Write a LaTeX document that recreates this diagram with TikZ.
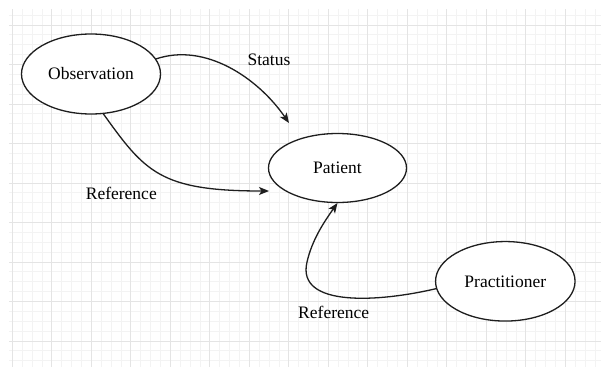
\documentclass[tikz,border=0pt]{standalone}
\usepackage{fontspec}
\setmainfont{Liberation Serif}
\usetikzlibrary{arrows.meta,shapes.geometric}

\definecolor{gridminor}{HTML}{F3F3F3}
\definecolor{gridmajor}{HTML}{E4E4E4}
\definecolor{ink}{HTML}{1E1E1E}

\tikzset{
  entity/.style={ellipse, draw=ink, line width=1.3pt, fill=white,
    inner sep=0pt, outer sep=0pt, font=\fontsize{17.5}{20}\selectfont},
  edgelabel/.style={inner sep=0pt, font=\fontsize{17.5}{20}\selectfont},
  link/.style={draw=ink, line width=1.3pt,
    -{Stealth[length=10pt,width=8pt,inset=2.5pt]}},
  minorline/.style={draw=gridminor, line width=1pt},
  majorline/.style={draw=gridmajor, line width=1pt},
}

\begin{document}
\begin{tikzpicture}[x=1pt,y=-1pt]
  \useasboundingbox (0,0) rectangle (601,367);
  \fill[white] (0,0) rectangle (601,367);

  % background grid
  \begin{scope}
    \clip (9,9) rectangle (601,367);
    \foreach \i in {0,...,60} {
      \draw[minorline] ({12.4+9.875*\i},9) -- ({12.4+9.875*\i},367);
    }
    \foreach \i in {-1,...,36} {
      \draw[minorline] (9,{25+9.875*\i}) -- (601,{25+9.875*\i});
    }
    \foreach \i in {0,...,15} {
      \draw[majorline] ({12.4+39.5*\i},9) -- ({12.4+39.5*\i},367);
    }
    \foreach \i in {0,...,9} {
      \draw[majorline] (9,{25+39.5*\i}) -- (601,{25+39.5*\i});
    }
  \end{scope}

  % entities
  \node[entity, minimum width=139pt, minimum height=80pt] (obs) at (91,74) {Observation};
  \node[entity, minimum width=138pt, minimum height=69pt] (pat) at (337.5,168) {Patient};
  \node[entity, minimum width=139.5pt, minimum height=79.5pt] (pra) at (505.3,281.3) {Practitioner};

  % arrow tips in front of the patient node
  \coordinate (tipstatus) at (289,123);
  \coordinate (tipobsref) at (269,191);
  \coordinate (tipprac) at (337.5,203);

  % connectors
  \draw[link] (obs.13) .. controls (205,42) and (258,78) .. (tipstatus);
  \draw[link] (obs.-73) .. controls (145,172) and (160,191) .. (tipobsref);
  \draw[link] (pra.186) .. controls (380,302) and (296,308) .. (307,262)
    .. controls (312,240) and (324,222) .. (tipprac);

  % connector labels
  \node[edgelabel] (lstatus) at (269,60) {Status};
  \node[edgelabel] (lref1) at (121.3,193.5) {Reference};
  \node[edgelabel] (lref2) at (333.7,312.5) {Reference};
\end{tikzpicture}
\end{document}
